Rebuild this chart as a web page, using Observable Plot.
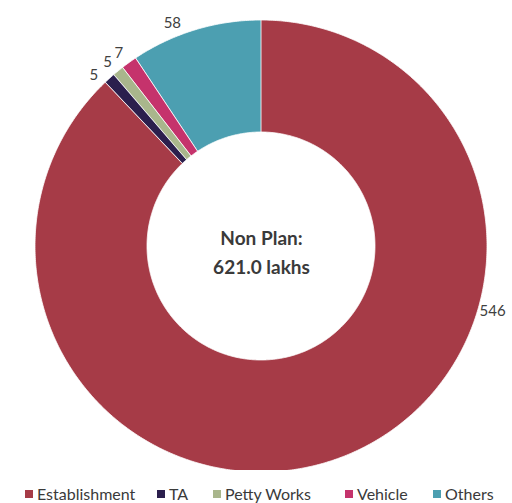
<!DOCTYPE html>
<html><head><meta charset="utf-8">
<script src="https://cdn.jsdelivr.net/npm/d3@7"></script>
<script src="https://cdn.jsdelivr.net/npm/@observablehq/plot@0.6"></script>
<style>
body{margin:0;background:#fff;font-family:Lato,"Open Sans",sans-serif;}
#legend{position:relative;width:512px;height:33px;font-size:16px;color:#3a3a3a;}
.item{position:absolute;top:15px;display:flex;align-items:center;white-space:nowrap;line-height:18px}
.sw{width:8px;height:8px;margin-right:4px}
</style></head><body><div id="chart"></div><div id="legend"></div>
<script>
const categories = ["Establishment", "TA", "Petty Works", "Vehicle", "Others"];
const values = [546, 5, 5, 7, 58];
const colors = ["#a63b47", "#2b1f4d", "#a9b68c", "#c5336c", "#4c9fb1"];
const centerTitle = ["Non Plan:", "621.0 lakhs"];

// layout constants
const R_OUT = 226, R_IN = 114, LABEL_R = 240;
const labelAngleDeg = [105.6, 315.7, 320.1, 323.5, 338.2];
const legendLeft = [25, 157, 213, 345, 433];

const slices = d3.pie().sort(null)(values);
const arcRows = [];
slices.forEach((s, i) => {
  const n = Math.max(2, Math.ceil((s.endAngle - s.startAngle) / (Math.PI / 360)));
  for (let k = 0; k <= n; k++) {
    const t = s.startAngle + (s.endAngle - s.startAngle) * k / n;
    arcRows.push({cat: categories[i], x1: R_OUT * Math.sin(t), y1: R_OUT * Math.cos(t), x2: R_IN * Math.sin(t), y2: R_IN * Math.cos(t)});
  }
});
const labelRows = values.map((v, i) => {
  const a = labelAngleDeg[i] * Math.PI / 180;
  return {text: String(v), x: LABEL_R * Math.sin(a), y: LABEL_R * Math.cos(a)};
});

const chart = Plot.plot({
  width: 512, height: 470, margin: 0,
  style: {fontFamily: "Lato, 'Open Sans', sans-serif", background: "#fff"},
  x: {domain: [-261, 251], axis: null},
  y: {domain: [-224, 246], axis: null},
  color: {domain: categories, range: colors},
  marks: [
    Plot.area(arcRows, {x1: "x1", y1: "y1", x2: "x2", y2: "y2", z: "cat", fill: "cat", stroke: "#fff", strokeWidth: 0.8}),
    Plot.text(labelRows, {x: "x", y: "y", text: "text", fontSize: 15, fill: "#404040"}),
    Plot.text([centerTitle.join("\n")], {x: () => 0, y: () => -4, text: d => d, fontSize: 19, fontWeight: "bold", fill: "#3a3a3a", lineHeight: 1.5})
  ]
});
document.getElementById("chart").appendChild(chart);

const legend = document.getElementById("legend");
categories.forEach((c, i) => {
  const it = document.createElement("div");
  it.className = "item";
  it.style.left = legendLeft[i] + "px";
  const sw = document.createElement("span");
  sw.className = "sw";
  sw.style.background = colors[i];
  const tx = document.createElement("span");
  tx.textContent = c;
  it.appendChild(sw); it.appendChild(tx);
  legend.appendChild(it);
});
</script></body></html>
